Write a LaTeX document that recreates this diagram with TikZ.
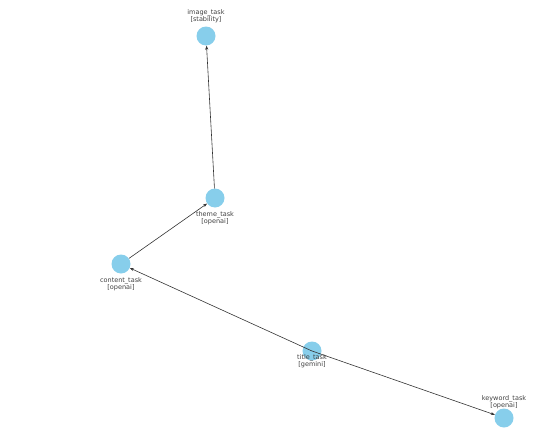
\documentclass[tikz,border=0pt]{standalone}
\usepackage{fontspec}
\setmainfont{DejaVu Sans}
\usetikzlibrary{arrows.meta}
\definecolor{sky}{RGB}{135,206,235}
\begin{document}
\begin{tikzpicture}[x=1pt,y=-1pt,
  task/.style={circle,fill=sky,minimum size=19pt,inner sep=0pt},
  lbl/.style={font=\fontsize{6.5}{7.4}\selectfont,align=center,text=black!75,inner sep=0pt},
  edge/.style={draw=black!80,line width=0.6pt,-{Stealth[length=4pt,width=3pt]}}]
\useasboundingbox (0,0) rectangle (554,431);
\node[task] (image) at (206,36) {};
\node[task] (theme) at (215,198) {};
\node[task] (content) at (121,264) {};
\node[task] (title) at (312,351) {};
\node[task] (keyword) at (504,418) {};
\node[lbl] (limage) at (206,16) {image\_task\\{}[stability]};
\node[lbl] (ltheme) at (215,218) {theme\_task\\{}[openai]};
\node[lbl] (lcontent) at (121,284) {content\_task\\{}[openai]};
\node[lbl] (ltitle) at (312,361) {title\_task\\{}[gemini]};
\node[lbl] (lkeyword) at (504,402) {keyword\_task\\{}[openai]};
\draw[edge] (title.center) -- (content);
\draw[edge] (content) -- (theme);
\draw[edge] (theme) -- (image);
\draw[edge] (title.center) -- (keyword);
\end{tikzpicture}
\end{document}
